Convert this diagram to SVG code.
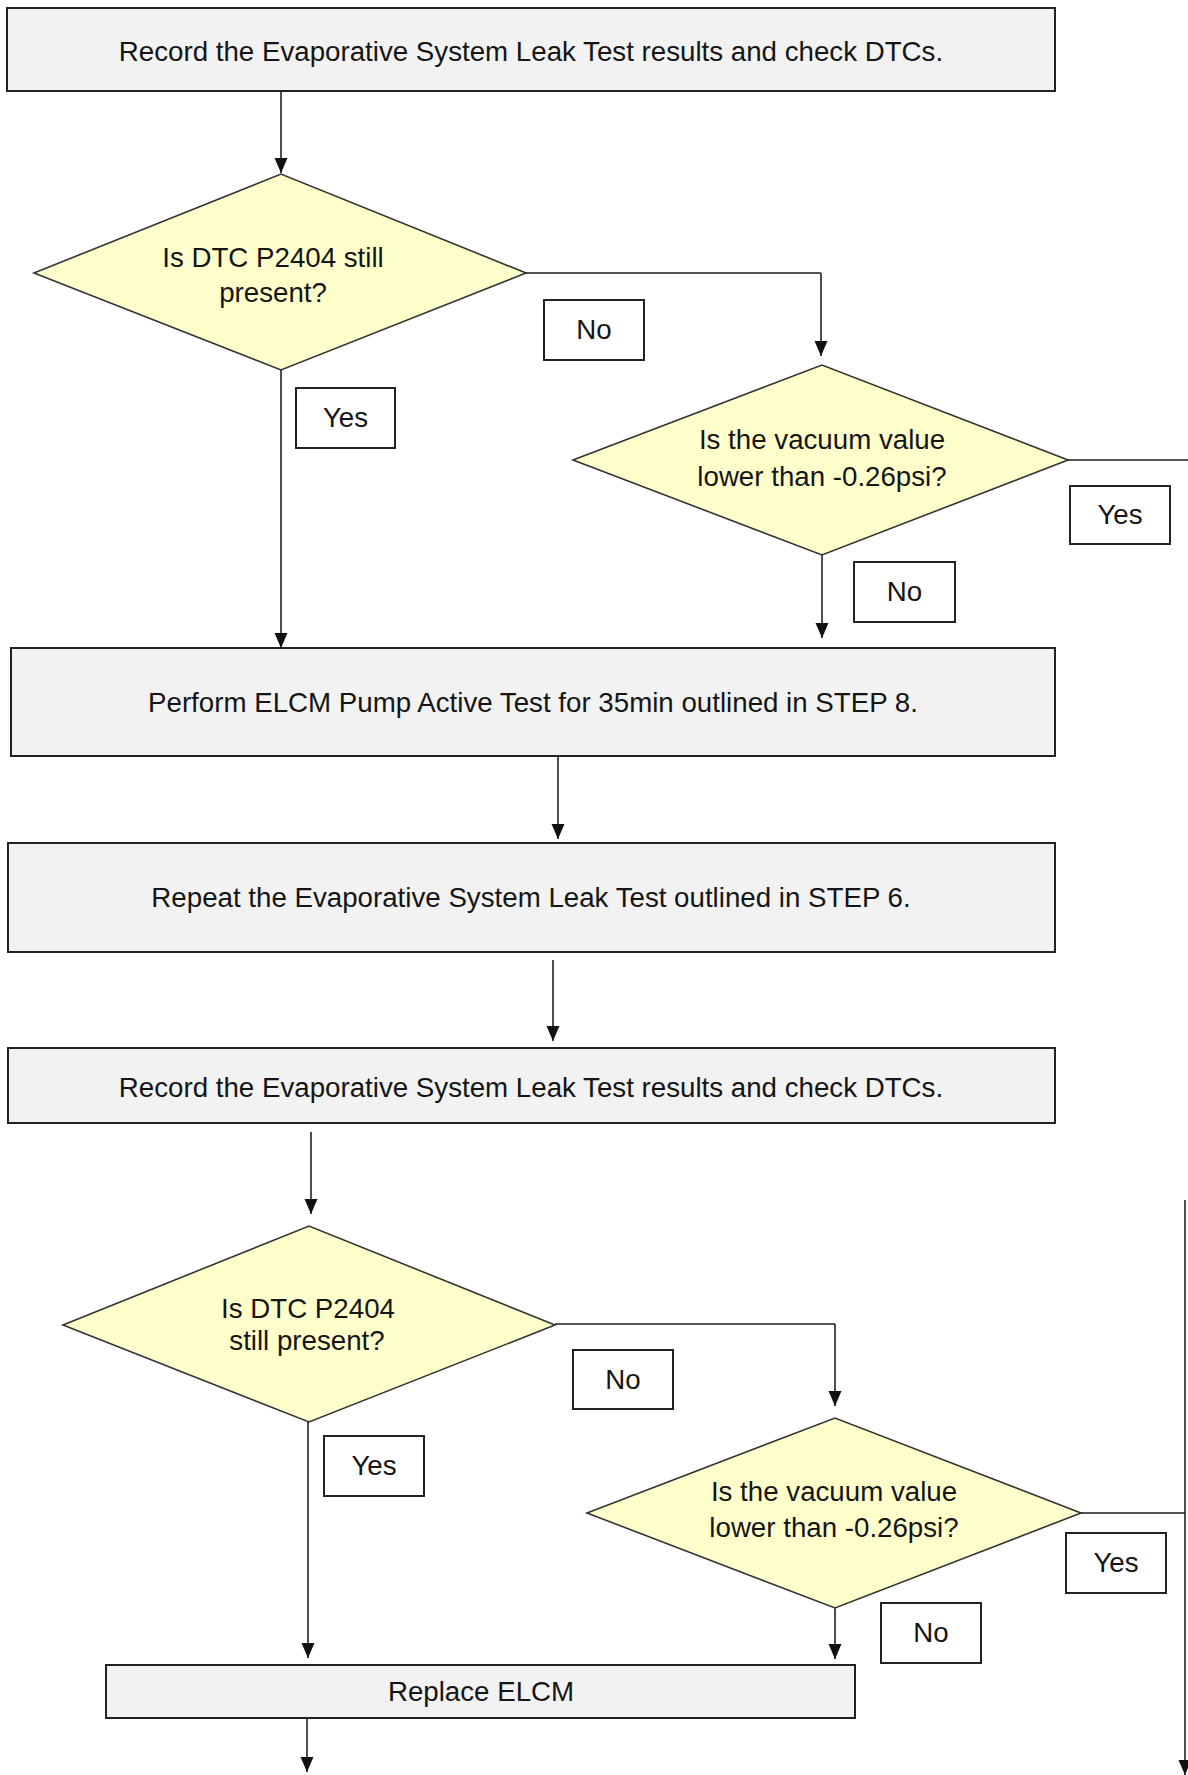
<svg xmlns="http://www.w3.org/2000/svg" width="1188" height="1775" viewBox="0 0 1188 1775">
<style>
.box{fill:#f2f2f2;stroke:#222;stroke-width:2}
.dia{fill:#ffffcc;stroke:#333;stroke-width:1.6}
.lbl{fill:#fff;stroke:#222;stroke-width:2}
.t{font-family:"Liberation Sans",Arial,sans-serif;font-size:27.7px;fill:#151515;text-anchor:middle}
.c{fill:none;stroke:#222;stroke-width:1.6}
.h{fill:none;stroke:#555;stroke-width:2}
</style>
<defs>
<marker id="ah" markerUnits="userSpaceOnUse" markerWidth="15" markerHeight="14" viewBox="0 0 15 13" refX="15" refY="6.5" orient="auto">
<path d="M0,0 L15,6.5 L0,13 Z" fill="#111"/>
</marker>
</defs>
<rect width="1188" height="1775" fill="#fff"/>

<g id="connectors">
<path class="c" d="M281,91 V173" marker-end="url(#ah)"/>
<path class="h" d="M526,273 H821"/>
<path class="c" d="M821,273 V356" marker-end="url(#ah)"/>
<path class="c" d="M281,370 V648" marker-end="url(#ah)"/>
<path class="h" d="M1068,460 H1188"/>
<path class="c" d="M822,555 V638" marker-end="url(#ah)"/>
<path class="c" d="M558,756 V839" marker-end="url(#ah)"/>
<path class="c" d="M553,960 V1041" marker-end="url(#ah)"/>
<path class="c" d="M311,1132 V1214" marker-end="url(#ah)"/>
<path class="h" d="M555,1324 H835"/>
<path class="c" d="M835,1324 V1406" marker-end="url(#ah)"/>
<path class="c" d="M308,1422 V1658" marker-end="url(#ah)"/>
<path class="h" d="M1081,1513 H1185"/>
<path class="c" d="M1185,1200 V1775" marker-end="url(#ah)"/>
<path class="c" d="M835,1608 V1659" marker-end="url(#ah)"/>
<path class="c" d="M307,1718 V1772" marker-end="url(#ah)"/>
</g>

<g id="box1">
<rect class="box" x="7" y="8" width="1048" height="83"/>
<text class="t" x="531" y="61">Record the Evaporative System Leak Test results and check DTCs.</text>
</g>

<g id="dia1">
<polygon class="dia" points="34,273 281,174 526,273 281,370"/>
<text class="t" x="273" y="267">Is DTC P2404 still</text>
<text class="t" x="273" y="302">present?</text>
</g>

<g id="lblNo1"><rect class="lbl" x="544" y="300" width="100" height="60"/><text class="t" x="594" y="339">No</text></g>
<g id="lblYes1"><rect class="lbl" x="296" y="388" width="99" height="60"/><text class="t" x="345.5" y="427">Yes</text></g>

<g id="dia2">
<polygon class="dia" points="573,460 822,365 1068,460 822,555"/>
<text class="t" x="822" y="449">Is the vacuum value</text>
<text class="t" x="822" y="486">lower than -0.26psi?</text>
</g>

<g id="lblYes2"><rect class="lbl" x="1070" y="486" width="100" height="58"/><text class="t" x="1120" y="524">Yes</text></g>
<g id="lblNo2"><rect class="lbl" x="854" y="562" width="101" height="60"/><text class="t" x="904.5" y="601">No</text></g>

<g id="box2">
<rect class="box" x="11" y="648" width="1044" height="108"/>
<text class="t" x="533" y="712">Perform ELCM Pump Active Test for 35min outlined in STEP 8.</text>
</g>

<g id="box3">
<rect class="box" x="8" y="843" width="1047" height="109"/>
<text class="t" x="531" y="907">Repeat the Evaporative System Leak Test outlined in STEP 6.</text>
</g>

<g id="box4">
<rect class="box" x="8" y="1048" width="1047" height="75"/>
<text class="t" x="531" y="1097">Record the Evaporative System Leak Test results and check DTCs.</text>
</g>

<g id="dia3">
<polygon class="dia" points="63,1325 309,1226 555,1325 309,1422"/>
<text class="t" x="308" y="1318">Is DTC P2404</text>
<text class="t" x="307" y="1350">still present?</text>
</g>

<g id="lblNo3"><rect class="lbl" x="573" y="1350" width="100" height="59"/><text class="t" x="623" y="1389">No</text></g>
<g id="lblYes3"><rect class="lbl" x="324" y="1436" width="100" height="60"/><text class="t" x="374" y="1475">Yes</text></g>

<g id="dia4">
<polygon class="dia" points="587,1513 835,1418 1081,1513 835,1608"/>
<text class="t" x="834" y="1501">Is the vacuum value</text>
<text class="t" x="834" y="1537">lower than -0.26psi?</text>
</g>

<g id="lblYes4"><rect class="lbl" x="1066" y="1533" width="100" height="60"/><text class="t" x="1116" y="1572">Yes</text></g>
<g id="lblNo4"><rect class="lbl" x="881" y="1603" width="100" height="60"/><text class="t" x="931" y="1642">No</text></g>

<g id="box5">
<rect class="box" x="106" y="1665" width="749" height="53"/>
<text class="t" x="481" y="1701">Replace ELCM</text>
</g>
</svg>
